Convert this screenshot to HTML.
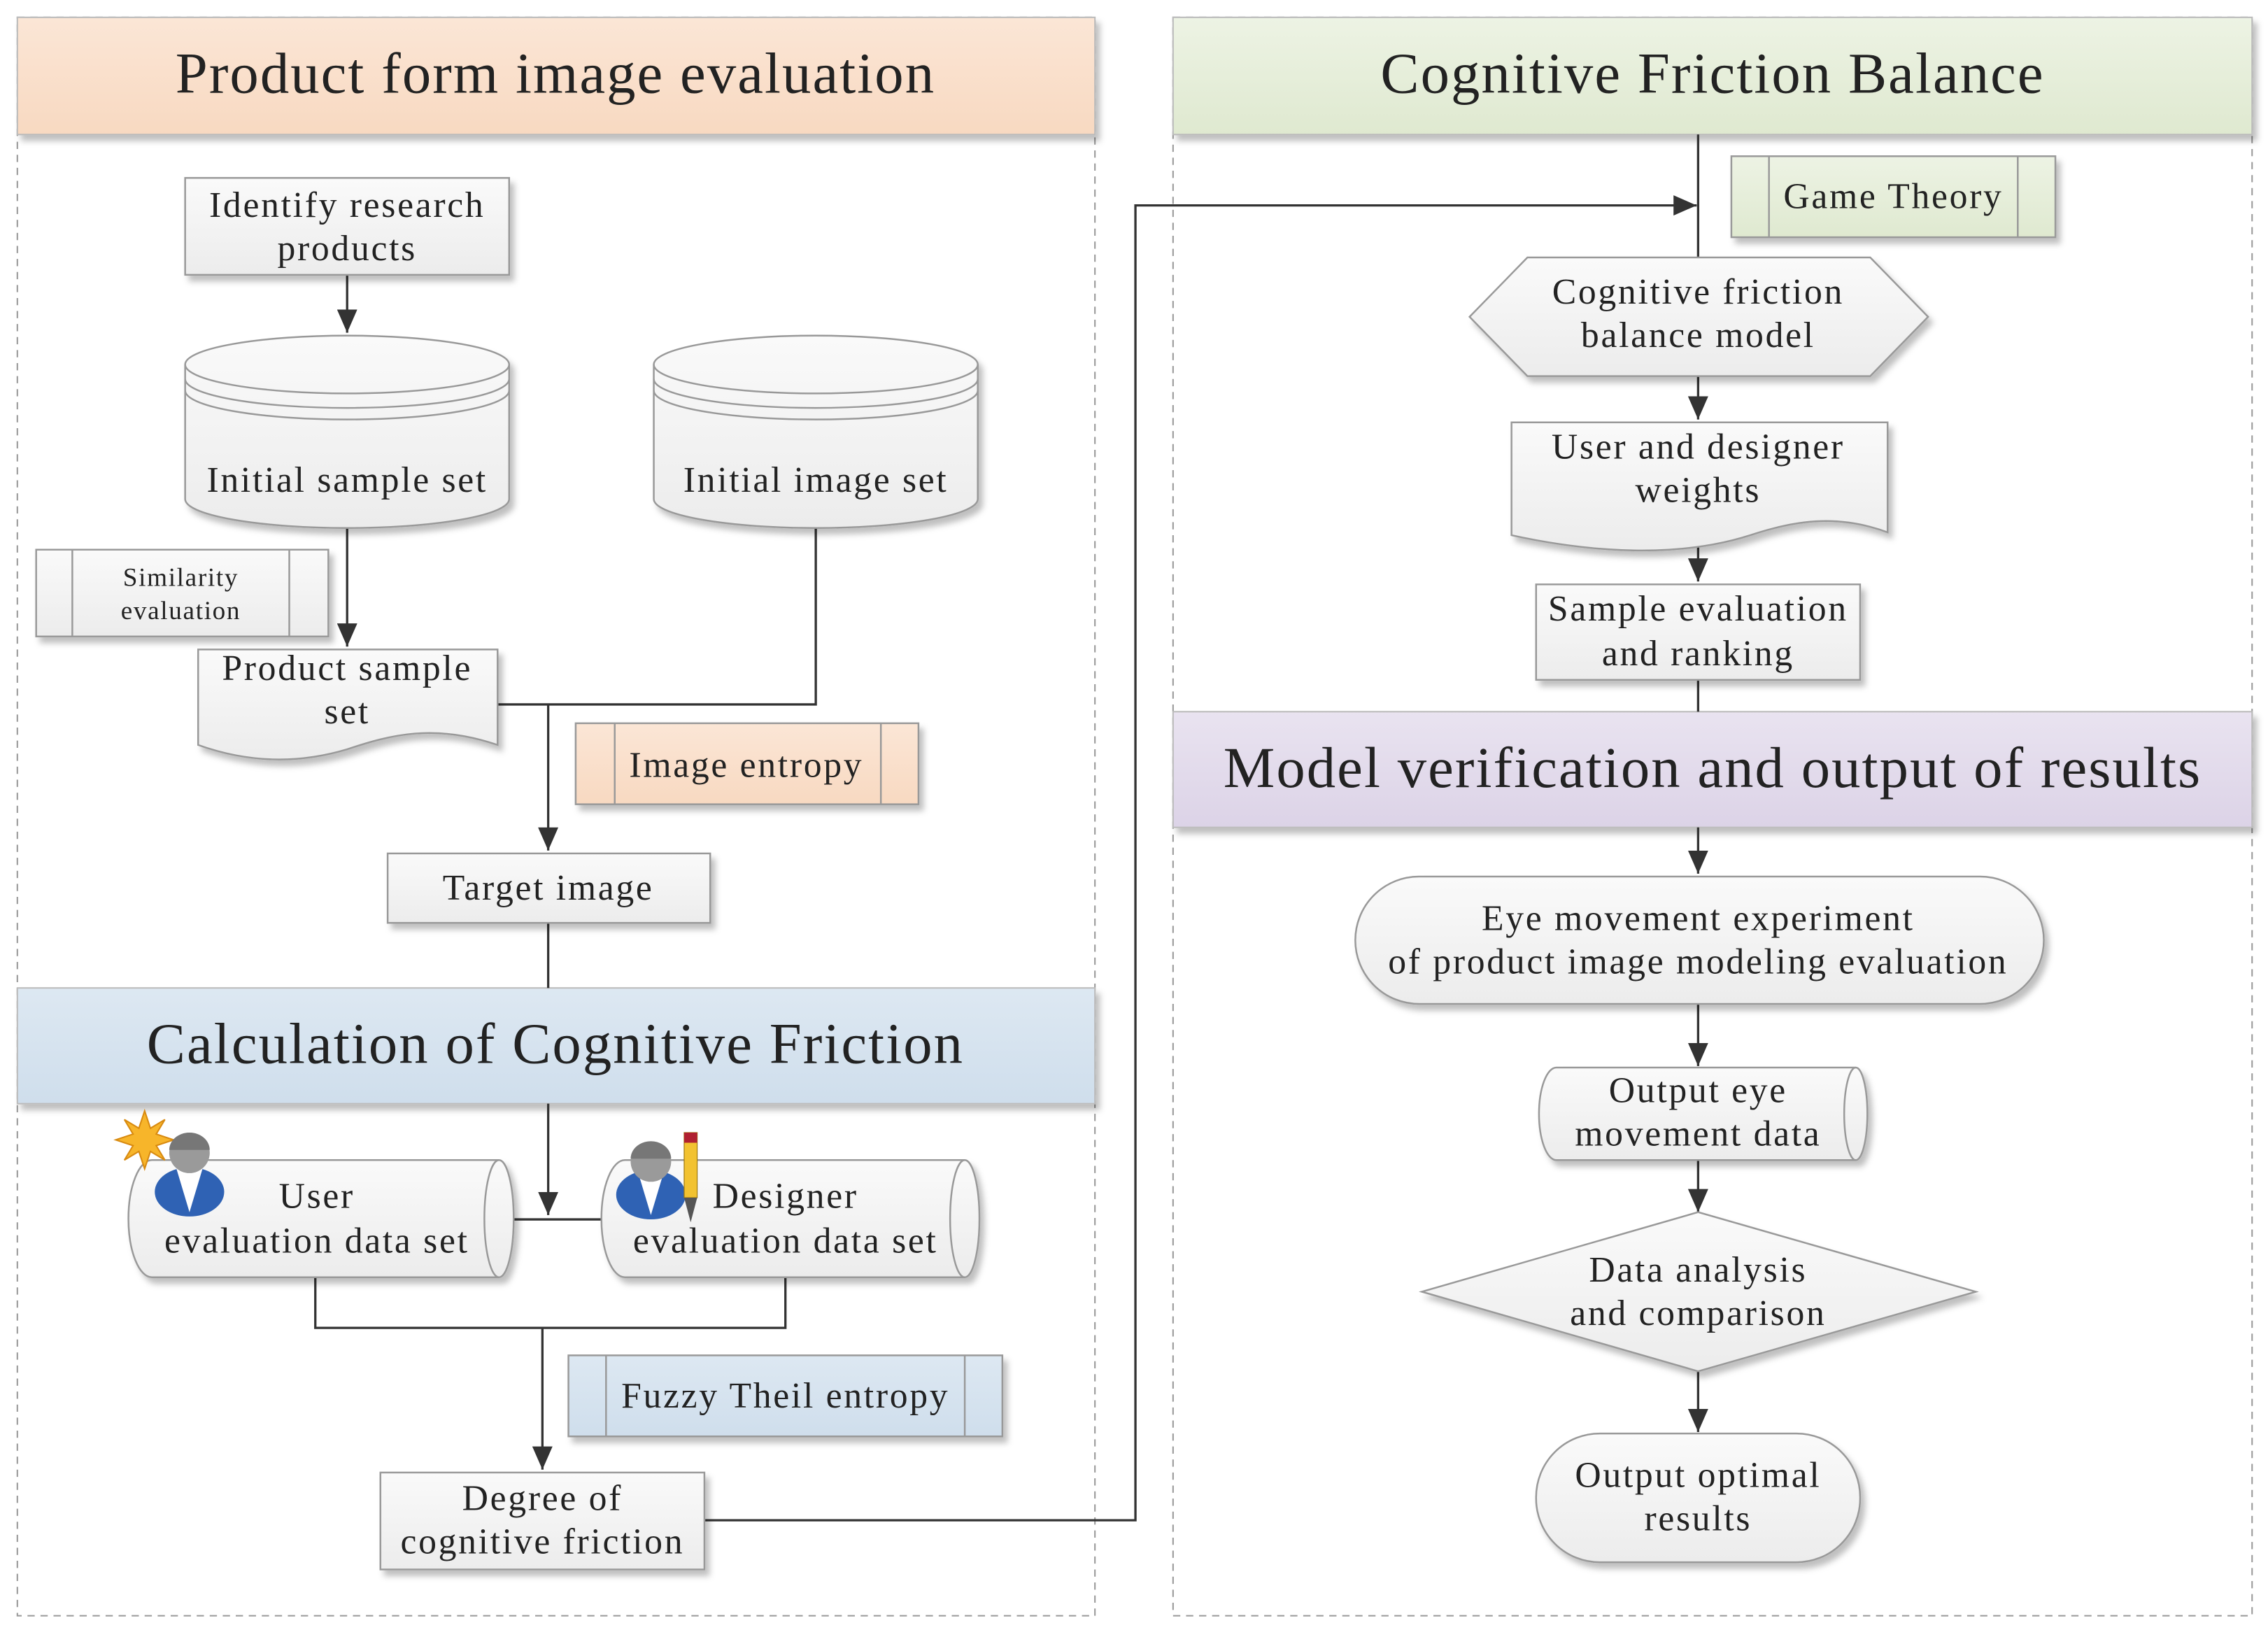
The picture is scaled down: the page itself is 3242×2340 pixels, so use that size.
<!DOCTYPE html>
<html><head><meta charset="utf-8"><style>html,body{margin:0;padding:0;background:#fff}svg{display:block}</style></head><body>
<svg width="3242" height="2340" viewBox="0 0 1568 1131.7" preserveAspectRatio="none" xmlns="http://www.w3.org/2000/svg" font-family="'Liberation Serif', serif" fill="#222">
<defs>
<linearGradient id="g" x1="0" y1="0" x2="0" y2="1"><stop offset="0" stop-color="#fafafa"/><stop offset="1" stop-color="#ececec"/></linearGradient>
<linearGradient id="pe" x1="0" y1="0" x2="0" y2="1"><stop offset="0" stop-color="#fbe6d6"/><stop offset="1" stop-color="#f8d9c1"/></linearGradient>
<linearGradient id="gr" x1="0" y1="0" x2="0" y2="1"><stop offset="0" stop-color="#edf3e4"/><stop offset="1" stop-color="#dfe9d0"/></linearGradient>
<linearGradient id="bl" x1="0" y1="0" x2="0" y2="1"><stop offset="0" stop-color="#dde8f2"/><stop offset="1" stop-color="#cfdeec"/></linearGradient>
<linearGradient id="pu" x1="0" y1="0" x2="0" y2="1"><stop offset="0" stop-color="#e9e3f0"/><stop offset="1" stop-color="#dcd3e7"/></linearGradient>
<filter id="sh" x="-10%" y="-10%" width="130%" height="140%"><feDropShadow dx="3" dy="4" stdDeviation="2" flood-color="#000" flood-opacity="0.25"/></filter>
<marker id="ad" viewBox="0 0 14 16" markerWidth="14" markerHeight="16" refX="7" refY="16" orient="0" markerUnits="userSpaceOnUse"><path d="M0,0 L14,0 L7,16 z" fill="#333"/></marker>
<marker id="arr" viewBox="0 0 16 14" markerWidth="16" markerHeight="14" refX="16" refY="7" orient="0" markerUnits="userSpaceOnUse"><path d="M0,0 L16,7 L0,14 z" fill="#333"/></marker>
</defs>

<rect x="12" y="12" width="745" height="1105" fill="none" stroke="#999" stroke-dasharray="5,4"/>
<rect x="811" y="12" width="746" height="1105" fill="none" stroke="#999" stroke-dasharray="5,4"/>
<g font-size="40" letter-spacing="1" text-anchor="middle">
<rect x="12" y="12" width="745" height="81" fill="url(#pe)" stroke="#bbb" filter="url(#sh)"/>
<text x="384" y="64">Product form image evaluation</text>
<rect x="811" y="12" width="746" height="81" fill="url(#gr)" stroke="#bbb" filter="url(#sh)"/>
<text x="1184" y="64">Cognitive Friction Balance</text>
<rect x="12" y="683" width="745" height="80" fill="url(#bl)" stroke="#bbb" filter="url(#sh)"/>
<text x="384" y="735">Calculation of Cognitive Friction</text>
<rect x="811" y="492" width="746" height="80" fill="url(#pu)" stroke="#bbb" filter="url(#sh)"/>
<text x="1184" y="544">Model verification and output of results</text>
</g>

<g stroke="#333" stroke-width="1.6" fill="none">
<line x1="240" y1="190" x2="240" y2="230" marker-end="url(#ad)"/>
<line x1="240" y1="365" x2="240" y2="447" marker-end="url(#ad)"/>
<polyline points="564,365 564,487 344,487"/>
<line x1="379" y1="487" x2="379" y2="588" marker-end="url(#ad)"/>
<line x1="379" y1="638" x2="379" y2="683"/>
<line x1="379" y1="763" x2="379" y2="840" marker-end="url(#ad)"/>
<line x1="355" y1="843" x2="420" y2="843"/>
<polyline points="218,883 218,918 543,918 543,883"/>
<line x1="375" y1="918" x2="375" y2="1016" marker-end="url(#ad)"/>
<polyline points="487,1051 785,1051 785,142 1173,142" marker-end="url(#arr)"/>
<line x1="1174" y1="93" x2="1174" y2="178"/>
<line x1="1174" y1="260" x2="1174" y2="290" marker-end="url(#ad)"/>
<line x1="1174" y1="372" x2="1174" y2="402" marker-end="url(#ad)"/>
<line x1="1174" y1="470" x2="1174" y2="492"/>
<line x1="1174" y1="572" x2="1174" y2="604" marker-end="url(#ad)"/>
<line x1="1174" y1="694" x2="1174" y2="737" marker-end="url(#ad)"/>
<line x1="1174" y1="802" x2="1174" y2="838" marker-end="url(#ad)"/>
<line x1="1174" y1="948" x2="1174" y2="990" marker-end="url(#ad)"/>
</g>

<g stroke="#999" stroke-width="1.2" fill="url(#g)" filter="url(#sh)">
<rect x="128" y="123" width="224" height="67"/>
<path d="M128,252 A112,20 0 0 1 352,252 L352,345 A112,20 0 0 1 128,345 Z"/>
<path d="M452,252 A112,20 0 0 1 676,252 L676,345 A112,20 0 0 1 452,345 Z"/>
<rect x="25" y="380" width="202" height="60"/>
<path d="M137,449 L344,449 L344,515 C300,500 270,508 240,518 C200,530 165,525 137,515 Z"/>
<rect x="398" y="500" width="237" height="56" fill="url(#pe)"/>
<rect x="268" y="590" width="223" height="48"/>
<path d="M105,802 L345,802 A10,40 0 0 1 345,883 L105,883 A16,40 0 0 1 105,802 Z"/>
<path d="M432,802 L667,802 A10,40 0 0 1 667,883 L432,883 A16,40 0 0 1 432,802 Z"/>
<rect x="393" y="937" width="300" height="56" fill="url(#bl)"/>
<rect x="263" y="1018" width="224" height="67"/>
<rect x="1197" y="108" width="224" height="56" fill="url(#gr)"/>
<polygon points="1016,219 1056,178 1293,178 1333,219 1293,260 1056,260"/>
<path d="M1045,292 L1305,292 L1305,368 C1270,355 1240,360 1210,370 C1160,386 1100,382 1045,370 Z"/>
<rect x="1062" y="404" width="224" height="66"/>
<rect x="937" y="606" width="476" height="88" rx="44"/>
<path d="M1076,738 L1283,738 A8,32 0 0 1 1283,802 L1076,802 A12,32 0 0 1 1076,738 Z"/>
<polygon points="983,893 1174,838 1366,893 1174,948"/>
<rect x="1062" y="991" width="224" height="89" rx="44"/>
</g>
<g stroke="#999" stroke-width="1.2" fill="none">
<path d="M128,252 A112,20 0 0 0 352,252 M128,262 A112,20 0 0 0 352,262 M128,270 A112,20 0 0 0 352,270"/>
<path d="M452,252 A112,20 0 0 0 676,252 M452,262 A112,20 0 0 0 676,262 M452,270 A112,20 0 0 0 676,270"/>
<path d="M50,380 V440 M200,380 V440 M425,500 V556 M609,500 V556 M419,937 V993 M667,937 V993 M1223,108 V164 M1395,108 V164"/>
<path d="M345,802 A10,40 0 0 0 345,883 M667,802 A10,40 0 0 0 667,883 M1283,738 A8,32 0 0 0 1283,802"/>
</g>

<g>
<polygon points="100,768 104,780 114,774 108,784 120,788 108,792 114,802 104,796 100,808 96,796 86,802 92,792 80,788 92,784 86,774 96,780" fill="#f7b52a" stroke="#d88a10" stroke-width="1"/>
<ellipse cx="131" cy="824" rx="24" ry="17" fill="#2f62b4"/>
<path d="M122,808 L131,838 L140,808 Z" fill="#fff"/>
<circle cx="131" cy="797" r="14" fill="#9a9a9a"/>
<path d="M117,795 A14,12 0 0 1 145,795 L117,795 Z" fill="#777"/>
<ellipse cx="450" cy="826" rx="24" ry="17" fill="#2f62b4"/>
<path d="M441,810 L450,840 L459,810 Z" fill="#fff"/>
<circle cx="450" cy="803" r="14" fill="#9a9a9a"/>
<path d="M436,801 A14,12 0 0 1 464,801 L436,801 Z" fill="#777"/>
<rect x="473" y="783" width="9" height="45" fill="#f2c230" stroke="#a07a10" stroke-width="0.6"/>
<rect x="473" y="783" width="9" height="7" fill="#b02030"/>
<polygon points="473,828 482,828 477.5,845" fill="#555"/>
</g>

<g font-size="25" letter-spacing="1.3" text-anchor="middle">
<text x="240" y="150">Identify research</text><text x="240" y="180">products</text>
<text x="240" y="340">Initial sample set</text>
<text x="564" y="340">Initial image set</text>
<text x="125" y="405" font-size="18" letter-spacing="0.8">Similarity</text><text x="125" y="428" font-size="18" letter-spacing="0.8">evaluation</text>
<text x="240" y="470">Product sample</text><text x="240" y="500">set</text>
<text x="516" y="537">Image entropy</text>
<text x="379" y="622">Target image</text>
<text x="219" y="835">User</text><text x="219" y="866">evaluation data set</text>
<text x="543" y="835">Designer</text><text x="543" y="866">evaluation data set</text>
<text x="543" y="973">Fuzzy Theil entropy</text>
<text x="375" y="1044">Degree of</text><text x="375" y="1074">cognitive friction</text>
<text x="1309" y="144">Game Theory</text>
<text x="1174" y="210">Cognitive friction</text><text x="1174" y="240">balance model</text>
<text x="1174" y="317">User and designer</text><text x="1174" y="347">weights</text>
<text x="1174" y="429">Sample evaluation</text><text x="1174" y="460">and ranking</text>
<text x="1174" y="643">Eye movement experiment</text><text x="1174" y="673">of product image modeling evaluation</text>
<text x="1174" y="762">Output eye</text><text x="1174" y="792">movement data</text>
<text x="1174" y="886">Data analysis</text><text x="1174" y="916">and comparison</text>
<text x="1174" y="1028">Output optimal</text><text x="1174" y="1058">results</text>
</g>
</svg>
</body></html>
